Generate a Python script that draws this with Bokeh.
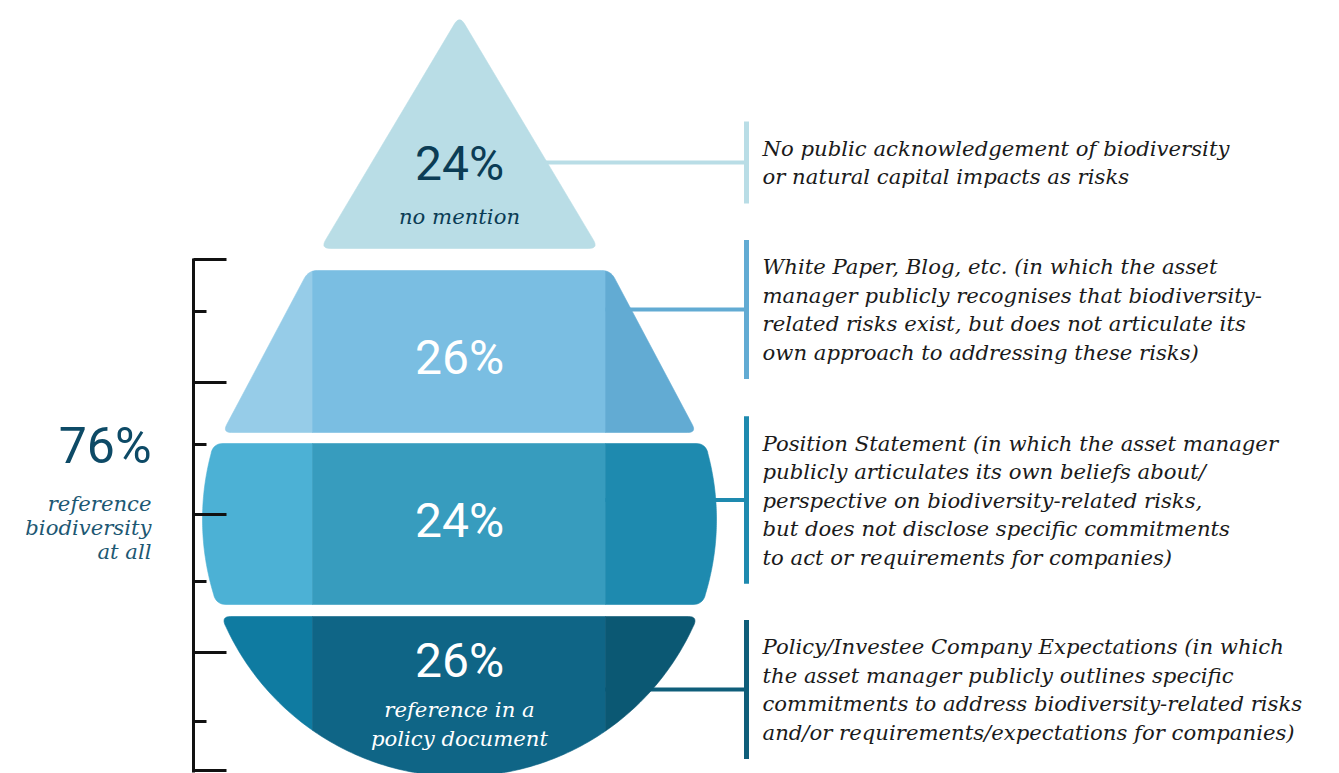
import numpy as np
from bokeh.plotting import figure
from bokeh.models import Range1d
from bokeh.core.properties import value
from bokeh.embed import file_html
from bokeh.resources import INLINE

# ---------------- data ----------------
shares = [24, 26, 24, 26]
pct_labels = ["24%", "26%", "24%", "26%"]
sub_labels = [["no mention"], [], [], ["reference in a", "policy document"]]
desc_lines = [
    ["No public acknowledgement of biodiversity",
     "or natural capital impacts as risks"],
    ["White Paper, Blog, etc. (in which the asset",
     "manager publicly recognises that biodiversity-",
     "related risks exist, but does not articulate its",
     "own approach to addressing these risks)"],
    ["Position Statement (in which the asset manager",
     "publicly articulates its own beliefs about/",
     "perspective on biodiversity-related risks,",
     "but does not disclose specific commitments",
     "to act or requirements for companies)"],
    ["Policy/Investee Company Expectations (in which",
     "the asset manager publicly outlines specific",
     "commitments to address biodiversity-related risks",
     "and/or requirements/expectations for companies)"],
]
total_label = "76%"
total_sub = ["reference", "biodiversity", "at all"]

# ---------------- style / layout ----------------
layer_colors = [
    ("#b9dde6", "#b9dde6", "#b9dde6"),
    ("#96cce8", "#7abee2", "#62abd3"),
    ("#4cb1d5", "#379cbe", "#1e8aaf"),
    ("#0f7ba1", "#0f6586", "#0b5873"),
]
connector_colors = ["#b9dde6", "#62abd3", "#1e8aaf", "#0f5e7a"]
pct_text_colors = ["#0b3c55", "white", "white", "white"]

PCT_FONT = value("Roboto")
SERIF = value("DejaVu Serif")
SERIF_SIZE = "21.2px"
PCT_SIZE = "48px"

W, H = 1339, 773
CX, CY, R = 459, 519, 257
SPLIT = (312, 605)

p = figure(width=W, height=H, x_range=Range1d(0, W), y_range=Range1d(H, 0),
           output_backend="svg", toolbar_location=None, min_border=0,
           x_axis_type=None, y_axis_type=None)
p.grid.visible = False
p.outline_line_color = None
p.background_fill_color = "white"
p.border_fill_color = "white"


def round_poly(pts, corners, r, n=9):
    pts = [np.array(q, float) for q in pts]
    N = len(pts)
    skip = set()
    for i in corners:
        for step in (-1, 1):
            j = (i + step) % N
            while j not in corners and np.linalg.norm(pts[j] - pts[i]) < r:
                skip.add(j)
                j = (j + step) % N
    out = []
    for i in range(N):
        if i in skip:
            continue
        P = pts[i]
        if i in corners:
            A = pts[(i - 1) % N]
            B = pts[(i + 1) % N]
            u1 = (A - P) / np.linalg.norm(A - P)
            u2 = (B - P) / np.linalg.norm(B - P)
            P1, P2 = P + u1 * r, P + u2 * r
            for t in np.linspace(0, 1, n):
                out.append((1 - t) ** 2 * P1 + 2 * t * (1 - t) * P + t ** 2 * P2)
        else:
            out.append(P)
    return out


def clip(poly, xc, keep_left):
    out = []
    n = len(poly)
    for i in range(n):
        P, Q = poly[i], poly[(i + 1) % n]
        inP = P[0] <= xc if keep_left else P[0] >= xc
        inQ = Q[0] <= xc if keep_left else Q[0] >= xc
        if inP:
            out.append(P)
        if inP != inQ:
            t = (xc - P[0]) / (Q[0] - P[0])
            out.append(np.array([xc, P[1] + t * (Q[1] - P[1])]))
    return out


def circle_band(y_top, y_bot, m=80):
    t0 = np.arcsin((y_top - CY) / R)
    t1 = np.arcsin(min(1.0, (y_bot - CY) / R))
    th = np.linspace(t0, t1, m)
    right = [(CX + R * np.cos(a), CY + R * np.sin(a)) for a in th]
    left = [(CX - R * np.cos(a), CY + R * np.sin(a)) for a in th[::-1]]
    pts = right + left
    corners = {0, m - 1, m, 2 * m - 1} if y_bot < CY + R else {0, 2 * m - 1}
    return pts, corners


# shapes
tri = [(CX, 15), (CX + 139, 248), (CX - 139, 248)]
shapes = [
    round_poly(tri, {0, 1, 2}, 10),
    round_poly([(CX - 151, 270), (CX + 151, 270), (CX + 237, 432), (CX - 237, 432)], {0, 1, 2, 3}, 9),
]
pts, cs = circle_band(443, 604)
shapes.append(round_poly(pts, cs, 9))
pts, cs = circle_band(616, CY + R)
shapes.append(round_poly(pts, cs, 9))

# connectors + bars (drawn behind shapes) and description texts
BAR_X = 746
LINE_H = 28.5
block_centers = [162, 309, 499.5, 689]
for k, lines in enumerate(desc_lines):
    yc = block_centers[k]
    half = (len(lines) * LINE_H + 25) / 2
    p.segment(x0=[CX], y0=[yc], x1=[BAR_X], y1=[yc], line_color=connector_colors[k], line_width=4)
    p.segment(x0=[BAR_X], y0=[yc - half], x1=[BAR_X], y1=[yc + half],
              line_color=connector_colors[k], line_width=5)
    ys = [yc + (i - (len(lines) - 1) / 2) * LINE_H for i in range(len(lines))]
    p.text(x=[BAR_X + 16] * len(lines), y=ys, text=lines, text_font=SERIF,
           text_font_style="italic", text_font_size=SERIF_SIZE, text_color="#1a1a1a",
           text_align="left", text_baseline="middle")

for k, poly in enumerate(shapes):
    cl, cm, cr = layer_colors[k]
    left = clip(poly, SPLIT[0], True)
    mid = clip(clip(poly, SPLIT[0], False), SPLIT[1], True)
    right = clip(poly, SPLIT[1], False)
    xs, ys, cols = [], [], []
    for part, c in ((left, cl), (mid, cm), (right, cr)):
        if len(part) >= 3:
            xs.append([q[0] for q in part])
            ys.append([q[1] for q in part])
            cols.append(c)
    p.patches(xs=xs, ys=ys, fill_color=cols, line_color=cols, line_width=0.6)

# labels inside the drop
pct_y = [163, 357, 520, 660]
sub_y = [[216], [], [], [709, 738]]
for k in range(4):
    p.text(x=[CX], y=[pct_y[k]], text=[pct_labels[k]], text_font=PCT_FONT,
           text_font_size=PCT_SIZE, text_color=pct_text_colors[k],
           text_align="center", text_baseline="middle")
    if sub_labels[k]:
        p.text(x=[CX] * len(sub_labels[k]), y=sub_y[k], text=sub_labels[k], text_font=SERIF,
               text_font_style="italic", text_font_size=SERIF_SIZE, text_color=pct_text_colors[k],
               text_align="center", text_baseline="middle")

# bracket on the left
BR_X = 193
long_ticks = [259, 382, 514, 652, 770]
short_ticks = [311, 444, 581, 721]
p.segment(x0=[BR_X], y0=[258], x1=[BR_X], y1=[772], line_color="#111111", line_width=3)
p.segment(x0=[BR_X] * len(long_ticks), y0=long_ticks, x1=[226] * len(long_ticks), y1=long_ticks,
          line_color="#111111", line_width=3)
p.segment(x0=[BR_X] * len(short_ticks), y0=short_ticks, x1=[206] * len(short_ticks), y1=short_ticks,
          line_color="#111111", line_width=3)

p.text(x=[151], y=[445], text=[total_label], text_font=PCT_FONT, text_font_size="50px",
       text_color="#0d4a66", text_align="right", text_baseline="middle")
p.text(x=[151] * 3, y=[503, 527, 551], text=total_sub, text_font=SERIF, text_font_style="italic",
       text_font_size=SERIF_SIZE, text_color="#1d5873", text_align="right", text_baseline="middle")

open("out.html", "w").write(file_html(p, INLINE))
